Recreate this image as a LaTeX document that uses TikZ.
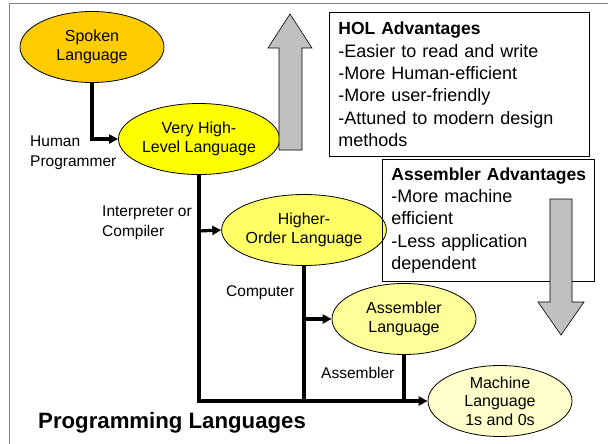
\documentclass[tikz,border=0pt]{standalone}
\usepackage{fontspec}
\setmainfont{Liberation Sans}
\usetikzlibrary{shapes.geometric,arrows.meta}

\definecolor{spoken}{HTML}{FFCC00}
\definecolor{vhl}{HTML}{FFFF00}
\definecolor{hol}{HTML}{FFFF66}
\definecolor{asm}{HTML}{FFFF99}
\definecolor{mach}{HTML}{FFFFCC}
\definecolor{bigarrow}{HTML}{C0C0C0}
\definecolor{framegray}{HTML}{808080}

\newcommand{\boxtitle}[1]{\mbox{\fontsize{17.5}{22.3}\selectfont\bfseries #1}}

\tikzset{
  lang/.style={ellipse, draw=black, line width=0.8pt, minimum width=144pt,
    minimum height=71pt, inner sep=0pt, align=center,
    font=\fontsize{16}{18.5}\selectfont},
  flow/.style={line width=3.2pt, -{Triangle[length=9pt,width=9pt]}},
  trunk/.style={line width=3.2pt},
  lbl/.style={align=left, anchor=west, inner sep=0pt,
    font=\fontsize{15.5}{19.5}\selectfont},
  advbox/.style={draw=black, line width=0.8pt, align=left, anchor=north west,
    inner xsep=9pt, inner ysep=4pt, font=\fontsize{18}{22.3}\selectfont},
  shade/.style={fill=bigarrow, draw=black, line width=0.6pt}
}

\begin{document}
\begin{tikzpicture}[x=1pt, y=-1pt]
\useasboundingbox (0,0) rectangle (608,444);

% partial frame (top and left edges)
\draw[framegray, line width=1pt] (9.5,444) -- (9.5,3.5) -- (608,3.5);

% language levels
\node[lang, fill=spoken] (spoken) at (92,47)  {Spoken\\Language};
\node[lang, fill=vhl]    (vhl)    at (199,139) {Very High-\\Level Language};
\node[lang, fill=hol]    (hol)    at (304,230) {Higher-\\Order Language};
\node[lang, fill=asm]    (asm)    at (404,319) {Assembler\\Language};
\node[lang, fill=mach]   (mach)   at (500,401) {Machine\\Language\\1s and 0s};

% junction points of the translation lines
\coordinate (j1) at (92,139);
\coordinate (j2) at (199,231);
\coordinate (j3) at (304,319);
\coordinate (b1) at (199,401);
\coordinate (b2) at (304,401);
\coordinate (b3) at (404,401);

% connectors
\draw[flow] (spoken.south) -- (j1) -- (vhl.west);
\draw[trunk] (vhl.south) -- (b1) -- (b3);
\draw[flow] (j2) -- (hol.west);
\draw[trunk] (hol.south) -- (b2);
\draw[flow] (j3) -- (asm.west);
\draw[trunk] (asm.south) -- (b3);
\draw[flow] (b3) -- (mach.west);

% connector labels
\node[lbl] (lhp)  at (30,153)  {Human\\Programmer};
\node[lbl] (lic)  at (102,223) {Interpreter or\\Compiler};
\node[lbl] (lcp)  at (226,293) {Computer};
\node[lbl] (las)  at (321,373) {Assembler};

% title
\node[anchor=west, inner sep=0pt, font=\fontsize{22.2}{26}\selectfont\bfseries]
  (title) at (38,423) {Programming Languages};

% advantages boxes
\node[advbox, text width=242pt, minimum height=144pt] (holbox) at (329,12)
  {\boxtitle{HOL Advantages}\\-Easier to read and write\\-More Human-efficient\\
   -More user-friendly\\-Attuned to modern design\\methods};
\node[advbox, text width=194pt, minimum height=122pt] (asmbox) at (382,159)
  {\boxtitle{Assembler Advantages}\\-More machine\\efficient\\-Less application\\dependent};

% big direction arrows
\draw[shade] (279,150) -- (279,48) -- (268,48) -- (290,14) -- (312,48)
  -- (302,48) -- (302,150) -- cycle;
\draw[shade] (550,199) -- (550,302) -- (538,302) -- (561,335) -- (584,302)
  -- (572,302) -- (572,199) -- cycle;
\end{tikzpicture}
\end{document}
